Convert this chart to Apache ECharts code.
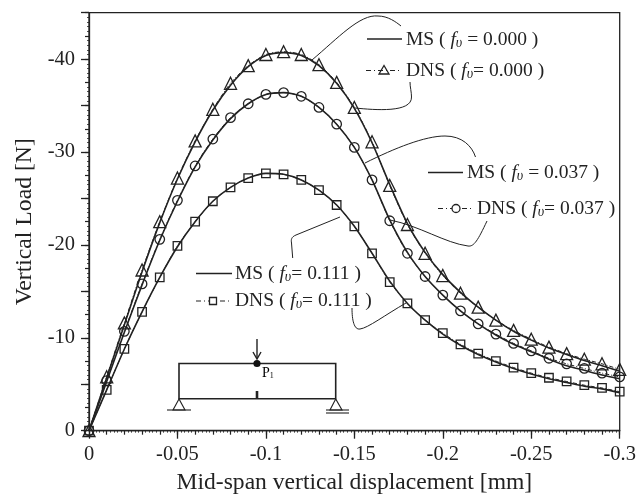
<!DOCTYPE html>
<html><head><meta charset="utf-8">
<style>html,body{margin:0;padding:0;background:#fff}#c{width:639px;height:497px}</style>
<script src="https://cdn.jsdelivr.net/npm/echarts@6/dist/echarts.min.js"></script>
</head><body><div id="c"></div>
<script>
const displacement = [0,-0.01,-0.02,-0.03,-0.04,-0.05,-0.06,-0.07,-0.08,-0.09,-0.10,-0.11,-0.12,-0.13,-0.14,-0.15,-0.16,-0.17,-0.18,-0.19,-0.20,-0.21,-0.22,-0.23,-0.24,-0.25,-0.26,-0.27,-0.28,-0.29,-0.30];
const dns000 = [0,-5.8,-11.6,-17.3,-22.5,-27.2,-31.2,-34.6,-37.4,-39.3,-40.5,-40.8,-40.5,-39.4,-37.5,-34.8,-31.1,-26.4,-22.2,-19.1,-16.7,-14.8,-13.3,-11.9,-10.8,-9.85,-9.0,-8.3,-7.7,-7.2,-6.6];
const dns037 = [0,-5.4,-10.7,-15.8,-20.6,-24.8,-28.5,-31.4,-33.7,-35.2,-36.2,-36.4,-36.0,-34.8,-33.0,-30.5,-27.0,-22.6,-19.1,-16.6,-14.6,-12.9,-11.5,-10.4,-9.4,-8.6,-7.8,-7.2,-6.7,-6.2,-5.8];
const dns111 = [0,-4.4,-8.8,-12.8,-16.5,-19.9,-22.5,-24.7,-26.2,-27.2,-27.7,-27.6,-27.0,-25.9,-24.3,-22.0,-19.1,-16.0,-13.7,-11.9,-10.5,-9.3,-8.3,-7.5,-6.8,-6.2,-5.7,-5.3,-4.9,-4.6,-4.2];
const ms000 = [0,-5.7,-11.4,-17.1,-22.4,-27.1,-31.1,-34.5,-37.2,-39.2,-40.4,-40.7,-40.4,-39.3,-37.4,-34.7,-31.0,-26.5,-22.3,-19.2,-16.8,-14.9,-13.3,-11.9,-10.7,-9.75,-8.9,-8.2,-7.55,-7.0,-6.4];
const ms037 = [0,-5.3,-10.6,-15.7,-20.5,-24.7,-28.4,-31.3,-33.6,-35.2,-36.2,-36.4,-36.0,-34.8,-33.0,-30.5,-27.0,-22.7,-19.2,-16.6,-14.6,-12.9,-11.5,-10.3,-9.3,-8.5,-7.7,-7.0,-6.5,-6.0,-5.6];
const ms111 = [0,-4.4,-8.8,-12.8,-16.5,-19.8,-22.5,-24.7,-26.2,-27.2,-27.7,-27.6,-27.0,-25.9,-24.3,-22.0,-19.1,-16.1,-13.7,-11.9,-10.4,-9.2,-8.2,-7.4,-6.7,-6.1,-5.6,-5.2,-4.8,-4.5,-4.1];
const legendLabels = ['MS (','DNS (','MS (','DNS (','MS (','DNS ('];
const legendValues = ['0.000','0.000','0.037','0.037','0.111','0.111'];
const axisNames = {x:'Mid-span vertical displacement [mm]', y:'Vertical Load [N]'};

const INK='#222', FONT='"Liberation Serif","Times New Roman",serif';
const rect={left:89,right:19.3,top:12.7,bottom:66.3,outerBoundsMode:'none'};
const zip=a=>a.map((v,i)=>[displacement[i],v]);

function layerAxis(interval,len,minor,dim){
  const base={type:'value',inverse:true,max:0,interval,
    axisLine:{show:false},splitLine:{show:false},axisLabel:{show:false},
    axisTick:{show:true,length:len,lineStyle:{color:INK,width:1.2}},
    minorTick:minor?{show:true,splitNumber:5,length:2,lineStyle:{color:INK,width:0.8}}:{show:false},
    minorSplitLine:{show:false}};
  return dim==='x'?{...base,min:-0.3}:{...base,min:-45};
}

const dnsS=(name,data,sym,size)=>({name,type:'line',data:zip(data),symbol:sym,symbolSize:size,showSymbol:true,showAllSymbol:true,
  smooth:0.25,clip:false,silent:true,z:4,
  lineStyle:{color:INK,width:1,type:[4,2,1,2]},
  itemStyle:{color:'rgba(255,255,255,0)',borderColor:INK,borderWidth:1.3}});
const msS=(name,data)=>({name,type:'line',data:zip(data),symbol:'none',smooth:0.25,clip:false,silent:true,z:3,
  lineStyle:{color:INK,width:1.6}});

const L=(x1,y1,x2,y2,w=1,dash)=>({type:'line',shape:{x1,y1,x2,y2},style:{stroke:INK,lineWidth:w,lineDash:dash||null},silent:true,z:10});
const B=(x1,y1,c1x,c1y,c2x,c2y,x2,y2)=>({type:'bezierCurve',shape:{x1,y1,cpx1:c1x,cpy1:c1y,cpx2:c2x,cpy2:c2y,x2,y2},style:{stroke:INK,lineWidth:1,fill:null},silent:true,z:10});
const P=(pts,w=1)=>({type:'polygon',shape:{points:pts},style:{stroke:INK,lineWidth:w,fill:'rgba(0,0,0,0)'},silent:true,z:10});

const rich={n:{fontFamily:FONT,fontSize:19.5,color:INK},
  f:{fontFamily:FONT,fontSize:19.5,fontStyle:'italic',color:INK},
  s:{fontFamily:FONT,fontSize:14,fontStyle:'italic',color:INK,verticalAlign:'bottom',padding:[7,0,0,0]}};
function legendText(i,x,y,tight){
  return {type:'text',x,y,silent:true,z:10,style:{
    text:`{n|${legendLabels[i]} }{f|f}{s|υ}{n|${tight?'':' '}= ${legendValues[i]} )}`,
    rich,fontFamily:FONT,fontSize:19.5,fill:INK,verticalAlign:'middle',align:'left'}};
}

const graphics=[
  B(312,60,338,38,360,14,378,16), B(378,16,388,16,396,22,401,26),
  B(355,108,375,110,412,113,411.5,97), B(411.5,97,411.5,92,410,87,410,82),
  B(365,163,395,148,425,136,445,136), B(445,136,462,136,472,146,475.5,157),
  B(390,220,420,226,445,243,468,246), B(468,246,474,247,478,240,487,221),
  L(340,217,296,235,1), B(296,235,291,237,291,240,291.5,243), L(291.5,243,292.7,258,1),
  B(406,303,385,315,368,328,360,329), B(360,329,354,330,352,320,352,308),
  L(367,39,402,39,1.5), L(366,70.5,402,70.5,1.1,[5,3,1,3]),
  P([[384,65.5],[379,74],[389,74]],1.3),
  L(428,172.5,463,172.5,1.5), L(438,208.5,474,208.5,1.1,[5,3,1,3]),
  {type:'circle',shape:{cx:456,cy:208.5,r:4},style:{stroke:INK,lineWidth:1.3,fill:'#fff'},silent:true,z:10},
  L(196,273.5,232,273.5,1.5), L(196,301,232,301,1.1,[5,3,1,3]),
  {type:'rect',shape:{x:209.5,y:297.5,width:7,height:7},style:{stroke:INK,lineWidth:1.3,fill:'#fff'},silent:true,z:10},
  legendText(0,406,40,false), legendText(1,406,71,true),
  legendText(2,467,173,false), legendText(3,477,209,true),
  legendText(4,235,274,true), legendText(5,235,301,true),
  P([[179,363.5],[335.7,363.5],[335.7,398.7],[179,398.7]],1.6),
  {type:'circle',shape:{cx:257,cy:363.5,r:3.6},style:{fill:'#111'},silent:true,z:11},
  L(257,339,257,358,1.4), {type:'polyline',shape:{points:[[253,352],[257,359],[261,352]]},style:{stroke:INK,lineWidth:1.4,fill:null},silent:true,z:10},
  L(257,391,257,398,2.6),
  P([[179,399],[173,410],[185,410]],1.1), L(167,410,191,410,1.1),
  P([[335.7,399],[330,410],[342,410]],1.1), L(326,410,349,410,1.1), L(326,413,349,413,1.1),
  {type:'text',x:262,y:373,silent:true,z:10,style:{text:'{a|P}{b|1}',rich:{a:{fontFamily:FONT,fontSize:14,color:INK},b:{fontFamily:FONT,fontSize:8,color:INK,verticalAlign:'bottom',padding:[6,0,0,0]}},verticalAlign:'middle'}}
];

const chart=echarts.init(document.getElementById('c'),null,{renderer:'canvas'});
chart.setOption({
  animation:false,backgroundColor:'#fff',
  grid:[
    {...rect,show:true,borderColor:INK,borderWidth:1.3,backgroundColor:'transparent',containLabel:false},
    {...rect,containLabel:false}
  ],
  xAxis:[
    {type:'value',gridIndex:0,inverse:true,min:-0.3,max:0,interval:0.05,
     name:axisNames.x,nameLocation:'middle',nameGap:40,
     nameTextStyle:{fontFamily:FONT,fontSize:23.6,color:INK},
     axisLine:{show:true,onZero:false,lineStyle:{color:INK,width:1.3}},
     axisTick:{show:true,length:8,lineStyle:{color:INK,width:1.3}},
     axisLabel:{fontFamily:FONT,fontSize:20.5,color:INK,margin:13,formatter:v=>String(+v.toFixed(2)),hideOverlap:false,showMinLabel:true,showMaxLabel:true},
     splitLine:{show:false}},
    {...layerAxis(0.01,4,true,'x'),gridIndex:1}
  ],
  yAxis:[
    {type:'value',gridIndex:0,inverse:true,min:-45,max:0,interval:5,
     name:axisNames.y,nameLocation:'middle',nameGap:51,
     nameTextStyle:{fontFamily:FONT,fontSize:23.7,color:INK},
     axisLine:{show:true,onZero:false,lineStyle:{color:INK,width:1.3}},
     axisTick:{show:true,length:8,lineStyle:{color:INK,width:1.3}},
     axisLabel:{fontFamily:FONT,fontSize:20.5,color:INK,margin:14,padding:[2,0,0,0],verticalAlignMinLabel:'middle',verticalAlignMaxLabel:'middle',formatter:v=>(v%10===0?String(v):''),showMinLabel:true,showMaxLabel:true},
     splitLine:{show:false}},
    {...layerAxis(2.5,4,true,'y'),gridIndex:1}
  ],
  series:[
    msS('MS 0.000',ms000),dnsS('DNS 0.000',dns000,'triangle',12),
    msS('MS 0.037',ms037),dnsS('DNS 0.037',dns037,'circle',9.5),
    msS('MS 0.111',ms111),dnsS('DNS 0.111',dns111,'rect',8.5)
  ],
  graphic:{elements:graphics}
});
</script></body></html>
